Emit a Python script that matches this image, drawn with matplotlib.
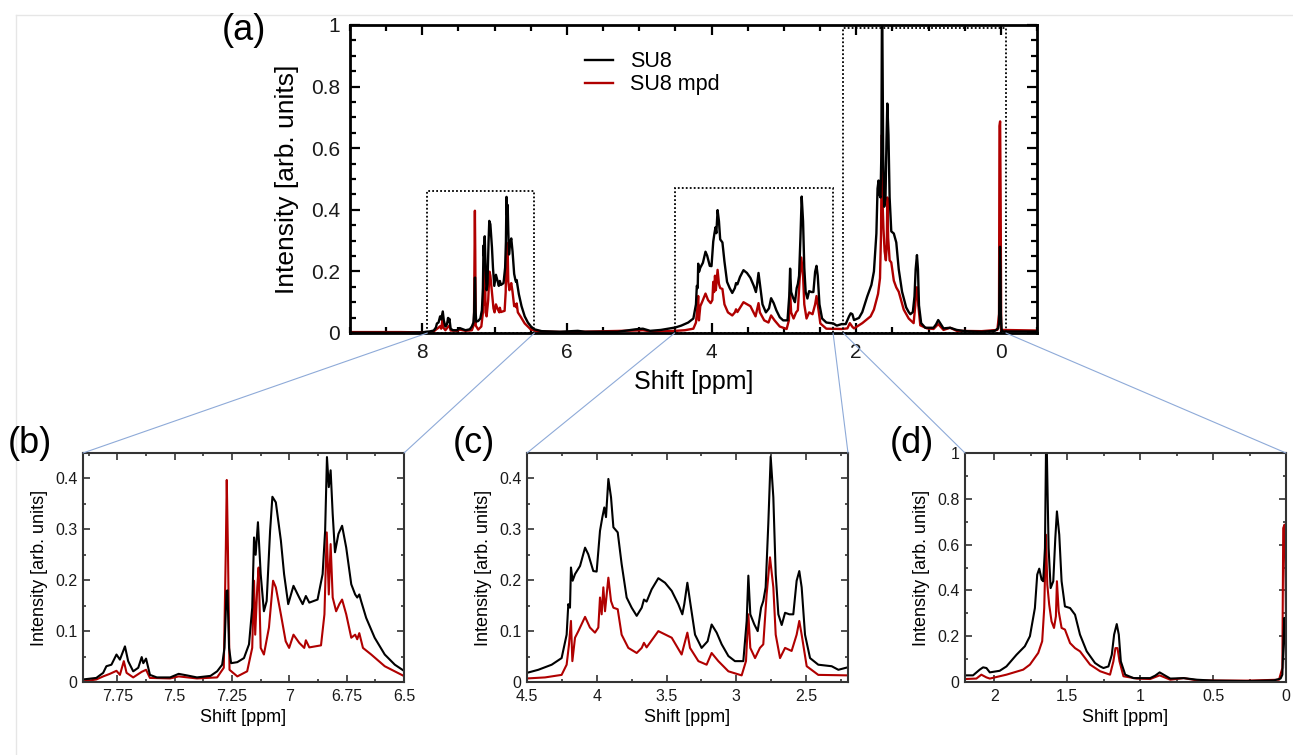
import numpy as np
import matplotlib
matplotlib.use("Agg")
import matplotlib.pyplot as plt
from matplotlib.patches import Rectangle, ConnectionPatch
from matplotlib.lines import Line2D
from matplotlib.ticker import MultipleLocator, FuncFormatter

plt.rcParams["font.family"] = ["Liberation Sans", "DejaVu Sans"]

# ---------------------------------------------------------------------------
# Spectrum values: (shift ppm, intensity)
# ---------------------------------------------------------------------------
SU8_EDGE = [(9.0, 0.001), (8.3, 0.001), (8.0, 0.002), (7.95, 0.004)]
MPD_EDGE = [(9.0, 0.003), (8.3, 0.003), (8.0, 0.002), (7.95, 0.001)]

SU8_AROM = [
    (7.900, 0.005), (7.842, 0.008), (7.812, 0.018), (7.798, 0.031), (7.776, 0.034),
    (7.754, 0.054), (7.739, 0.044), (7.717, 0.070), (7.703, 0.041), (7.681, 0.021),
    (7.659, 0.028), (7.644, 0.049), (7.637, 0.037), (7.625, 0.046), (7.608, 0.014),
    (7.578, 0.009), (7.520, 0.009), (7.483, 0.016), (7.447, 0.013), (7.403, 0.009),
    (7.344, 0.012), (7.315, 0.021), (7.293, 0.034), (7.283, 0.067), (7.274, 0.179),
    (7.270, 0.180), (7.263, 0.067), (7.254, 0.037), (7.227, 0.039), (7.198, 0.047),
    (7.176, 0.074), (7.162, 0.146), (7.154, 0.284), (7.147, 0.250), (7.137, 0.314),
    (7.125, 0.212), (7.111, 0.139), (7.099, 0.159), (7.084, 0.297), (7.074, 0.364),
    (7.059, 0.353), (7.037, 0.278), (7.023, 0.212), (7.005, 0.153), (6.982, 0.189),
    (6.957, 0.166), (6.942, 0.153), (6.928, 0.169), (6.913, 0.156), (6.877, 0.162),
    (6.855, 0.212), (6.844, 0.297), (6.836, 0.442), (6.828, 0.383), (6.820, 0.416),
    (6.811, 0.330), (6.801, 0.255), (6.786, 0.291), (6.770, 0.307), (6.752, 0.264),
    (6.730, 0.192), (6.713, 0.172), (6.704, 0.166), (6.695, 0.172), (6.687, 0.159),
    (6.665, 0.126), (6.628, 0.087), (6.584, 0.054), (6.540, 0.034), (6.497, 0.021),
]
MPD_AROM = [
    (7.900, 0.001), (7.842, 0.005), (7.812, 0.011), (7.783, 0.016), (7.754, 0.022),
    (7.739, 0.014), (7.722, 0.041), (7.710, 0.018), (7.681, 0.009), (7.644, 0.020),
    (7.625, 0.024), (7.608, 0.008), (7.520, 0.007), (7.483, 0.011), (7.403, 0.007),
    (7.315, 0.009), (7.286, 0.028), (7.277, 0.264), (7.273, 0.397), (7.268, 0.264),
    (7.261, 0.024), (7.227, 0.011), (7.184, 0.021), (7.162, 0.067), (7.154, 0.199),
    (7.149, 0.093), (7.140, 0.186), (7.134, 0.225), (7.125, 0.067), (7.111, 0.054),
    (7.089, 0.107), (7.071, 0.199), (7.059, 0.186), (7.037, 0.133), (7.016, 0.080),
    (7.001, 0.067), (6.982, 0.093), (6.957, 0.077), (6.935, 0.067), (6.928, 0.082),
    (6.913, 0.068), (6.862, 0.072), (6.847, 0.133), (6.837, 0.294), (6.828, 0.172),
    (6.820, 0.271), (6.811, 0.166), (6.796, 0.139), (6.782, 0.153), (6.770, 0.162),
    (6.752, 0.133), (6.730, 0.087), (6.713, 0.093), (6.704, 0.084), (6.695, 0.096),
    (6.679, 0.067), (6.643, 0.054), (6.584, 0.031), (6.497, 0.011),
]

SU8_GAP = [(6.45, 0.012), (6.35, 0.006), (6.1, 0.004), (5.85, 0.007), (5.75, 0.004),
           (5.3, 0.004), (5.05, 0.012), (4.95, 0.014), (4.85, 0.007), (4.7, 0.010),
           (4.6, 0.014)]
MPD_GAP = [(6.4, 0.005), (6.0, 0.003), (5.05, 0.008), (4.95, 0.009), (4.8, 0.004),
           (4.6, 0.006)]

SU8_MID = [
    (4.500, 0.018), (4.419, 0.024), (4.323, 0.034), (4.252, 0.047), (4.216, 0.093),
    (4.204, 0.153), (4.192, 0.146), (4.185, 0.225), (4.173, 0.199), (4.156, 0.212),
    (4.120, 0.228), (4.084, 0.264), (4.061, 0.251), (4.025, 0.218), (4.001, 0.217),
    (3.977, 0.297), (3.960, 0.324), (3.946, 0.343), (3.934, 0.324), (3.917, 0.399),
    (3.898, 0.363), (3.881, 0.304), (3.850, 0.294), (3.822, 0.232), (3.786, 0.166),
    (3.750, 0.146), (3.714, 0.130), (3.678, 0.146), (3.662, 0.162), (3.643, 0.158),
    (3.607, 0.182), (3.559, 0.204), (3.511, 0.195), (3.463, 0.179), (3.416, 0.153),
    (3.387, 0.133), (3.373, 0.153), (3.351, 0.195), (3.332, 0.159), (3.296, 0.093),
    (3.249, 0.067), (3.206, 0.080), (3.177, 0.113), (3.141, 0.097), (3.105, 0.074),
    (3.057, 0.051), (3.010, 0.041), (2.950, 0.041), (2.926, 0.120), (2.914, 0.209),
    (2.900, 0.133), (2.871, 0.113), (2.847, 0.100), (2.823, 0.146), (2.807, 0.159),
    (2.790, 0.186), (2.771, 0.311), (2.754, 0.443), (2.735, 0.363), (2.718, 0.212),
    (2.699, 0.133), (2.675, 0.112), (2.651, 0.136), (2.620, 0.133), (2.592, 0.133),
    (2.568, 0.199), (2.549, 0.218), (2.532, 0.186), (2.508, 0.093), (2.472, 0.047),
    (2.413, 0.034), (2.317, 0.031), (2.269, 0.024),
]
MPD_MID = [
    (4.500, 0.007), (4.371, 0.009), (4.252, 0.014), (4.216, 0.034), (4.199, 0.074),
    (4.185, 0.120), (4.175, 0.041), (4.156, 0.087), (4.132, 0.100), (4.084, 0.128),
    (4.049, 0.107), (4.013, 0.097), (3.989, 0.107), (3.977, 0.166), (3.965, 0.133),
    (3.953, 0.186), (3.941, 0.139), (3.917, 0.205), (3.898, 0.159), (3.881, 0.146),
    (3.850, 0.143), (3.822, 0.093), (3.774, 0.067), (3.714, 0.057), (3.678, 0.067),
    (3.662, 0.077), (3.643, 0.068), (3.559, 0.100), (3.463, 0.087), (3.392, 0.054),
    (3.351, 0.097), (3.332, 0.067), (3.272, 0.041), (3.213, 0.034), (3.177, 0.057),
    (3.129, 0.041), (3.057, 0.021), (2.962, 0.013), (2.931, 0.041), (2.914, 0.133),
    (2.900, 0.067), (2.866, 0.047), (2.831, 0.067), (2.807, 0.074), (2.783, 0.172),
    (2.759, 0.245), (2.735, 0.186), (2.718, 0.093), (2.687, 0.047), (2.651, 0.067),
    (2.604, 0.061), (2.568, 0.093), (2.549, 0.120), (2.532, 0.093), (2.496, 0.031),
    (2.413, 0.014),
]

SU8_ALIPH = [
    (2.200, 0.029), (2.145, 0.029), (2.099, 0.054), (2.076, 0.064), (2.053, 0.061),
    (2.030, 0.042), (1.962, 0.049), (1.916, 0.068), (1.847, 0.119), (1.790, 0.156),
    (1.755, 0.200), (1.721, 0.323), (1.705, 0.469), (1.691, 0.495), (1.675, 0.447),
    (1.664, 0.440), (1.652, 0.585), (1.645, 1.000), (1.639, 1.000), (1.627, 0.585),
    (1.613, 0.410), (1.595, 0.440), (1.581, 0.629), (1.570, 0.745), (1.554, 0.643),
    (1.538, 0.440), (1.515, 0.330), (1.480, 0.323), (1.446, 0.294), (1.412, 0.207),
    (1.366, 0.134), (1.309, 0.083), (1.274, 0.068), (1.251, 0.061), (1.217, 0.068),
    (1.194, 0.119), (1.178, 0.207), (1.160, 0.253), (1.146, 0.207), (1.132, 0.090),
    (1.102, 0.032), (1.045, 0.017), (0.931, 0.017), (0.896, 0.028), (0.866, 0.042),
    (0.839, 0.032), (0.793, 0.015), (0.701, 0.017), (0.610, 0.010), (0.495, 0.006),
    (0.266, 0.004), (0.083, 0.007), (0.037, 0.015), (0.025, 0.032), (0.019, 0.148),
    (0.012, 0.280), (0.005, 0.207), (0.000, 0.061), (-0.010, 0.010), (-0.030, 0.005),
    (-0.500, 0.005),
]
MPD_ALIPH = [
    (2.200, 0.013), (2.122, 0.015), (2.088, 0.032), (2.053, 0.020), (2.030, 0.015),
    (1.916, 0.032), (1.801, 0.054), (1.755, 0.076), (1.698, 0.127), (1.671, 0.178),
    (1.657, 0.323), (1.645, 0.643), (1.636, 0.425), (1.623, 0.338), (1.607, 0.265),
    (1.590, 0.236), (1.577, 0.287), (1.570, 0.440), (1.558, 0.309), (1.538, 0.236),
    (1.515, 0.229), (1.480, 0.170), (1.446, 0.148), (1.412, 0.134), (1.343, 0.076),
    (1.274, 0.047), (1.206, 0.032), (1.183, 0.090), (1.169, 0.148), (1.155, 0.148),
    (1.141, 0.090), (1.114, 0.025), (1.022, 0.015), (0.931, 0.013), (0.866, 0.029),
    (0.793, 0.010), (0.701, 0.017), (0.610, 0.007), (0.266, 0.006), (0.048, 0.010),
    (0.025, 0.061), (0.019, 0.672), (0.010, 0.687), (0.003, 0.440), (-0.005, 0.010),
    (-0.500, 0.008),
]

# zoom windows: tag, box in (a) (ppm high, ppm low, top), panel xlim, ymax, tick steps
ZOOMS = [
    ("(b)", 7.93, 6.45, 0.46, (7.9, 6.5), 0.45, 0.25, 0.125, 0.1, 0.05),
    ("(c)", 4.51, 2.32, 0.47, (4.5, 2.2), 0.45, 0.5, 0.25, 0.1, 0.05),
    ("(d)", 2.18, -0.07, 0.99, (2.2, 0.0), 1.0, 0.5, 0.25, 0.2, 0.1),
]

BLACK = "#000000"
RED = "#b00000"
LINK = "#8eaad8"


def _join(*parts):
    pts = [p for part in parts for p in part]
    arr = np.array(pts)
    return arr[:, 0], arr[:, 1]


su8_x, su8_y = _join(SU8_EDGE, SU8_AROM, SU8_GAP, SU8_MID, SU8_ALIPH)
mpd_x, mpd_y = _join(MPD_EDGE, MPD_AROM, MPD_GAP, MPD_MID, MPD_ALIPH)

fmt = FuncFormatter(lambda v, p: f"{v:g}")


def style(ax, fs, maj, mino, w, pad, spine_col):
    for s in ax.spines.values():
        s.set_linewidth(w)
        s.set_color(spine_col)
    ax.tick_params(which="both", direction="in", top=True, right=True,
                   width=w * 0.8, colors=spine_col, labelcolor="#1a1a1a",
                   labelsize=fs, pad=pad)
    ax.tick_params(which="major", length=maj)
    ax.tick_params(which="minor", length=mino)
    ax.xaxis.set_major_formatter(fmt)
    ax.yaxis.set_major_formatter(fmt)


fig = plt.figure(figsize=(12.93, 7.55), dpi=100)

# faint page frame
fig.add_artist(Line2D([16 / 1293, 1], [1 - 15 / 755] * 2, color="#e6e6e6", lw=1))
fig.add_artist(Line2D([16 / 1293] * 2, [0, 1 - 15 / 755], color="#e6e6e6", lw=1))

ax_a = fig.add_axes([350 / 1293, 1 - 333 / 755, 687 / 1293, 308 / 755])
ax_a.plot(mpd_x, mpd_y, color=RED, lw=1.7, label="SU8 mpd")
ax_a.plot(su8_x, su8_y, color=BLACK, lw=1.7, label="SU8")
ax_a.set_xlim(9.0, -0.5)
ax_a.set_ylim(0, 1.0)
ax_a.xaxis.set_major_locator(MultipleLocator(2))
ax_a.xaxis.set_minor_locator(MultipleLocator(0.5))
ax_a.yaxis.set_major_locator(MultipleLocator(0.2))
ax_a.yaxis.set_minor_locator(MultipleLocator(0.05))
style(ax_a, 15, 7, 4, 2.0, 7, "#000000")
ax_a.set_xlabel("Shift [ppm]", fontsize=18, labelpad=6)
ax_a.set_ylabel("Intensity [arb. units]", fontsize=19, labelpad=9)
h, l = ax_a.get_legend_handles_labels()
ax_a.legend(h[::-1], l[::-1], loc="upper left", bbox_to_anchor=(0.342, 0.915),
            frameon=False, fontsize=15.5, handlelength=1.3, handletextpad=0.8,
            labelspacing=0.1, borderpad=0, borderaxespad=0)
fig.text(244 / 1293, 1 - 30 / 755, "(a)", fontsize=26, ha="center", va="center")

sub_left = [83, 527, 965]
for (tag, x0, x1, top, xlim, ymax, xmaj, xmin, ymaj, ymin), left in zip(ZOOMS, sub_left):
    ax_a.add_patch(Rectangle((x1, 0), x0 - x1, top, fill=False, ec="black",
                             lw=1.3, ls=(0, (1, 1.2)), zorder=3))
    ax = fig.add_axes([left / 1293, 1 - 682 / 755, 321 / 1293, 229 / 755])
    ax.plot(mpd_x, mpd_y, color=RED, lw=1.5)
    ax.plot(su8_x, su8_y, color=BLACK, lw=1.5)
    ax.set_xlim(*xlim)
    ax.set_ylim(0, ymax)
    ax.xaxis.set_major_locator(MultipleLocator(xmaj))
    ax.xaxis.set_minor_locator(MultipleLocator(xmin))
    ax.yaxis.set_major_locator(MultipleLocator(ymaj))
    ax.yaxis.set_minor_locator(MultipleLocator(ymin))
    style(ax, 11.5, 5, 2.5, 1.5, 4, "#333333")
    ax.tick_params(axis="x", pad=5)
    ax.set_xlabel("Shift [ppm]", fontsize=13, labelpad=4)
    ax.set_ylabel("Intensity [arb. units]", fontsize=13, labelpad=5)
    fig.text((left - 53) / 1293, 1 - 444 / 755, tag, fontsize=26,
             ha="center", va="center")
    for xa, xb in ((x0, 0), (x1, 1)):
        con = ConnectionPatch(xyA=(xa, 0), coordsA=ax_a.transData,
                              xyB=(xb, 1), coordsB=ax.transAxes,
                              color=LINK, lw=0.8)
        fig.add_artist(con)

fig.savefig("out.png", dpi=100)
